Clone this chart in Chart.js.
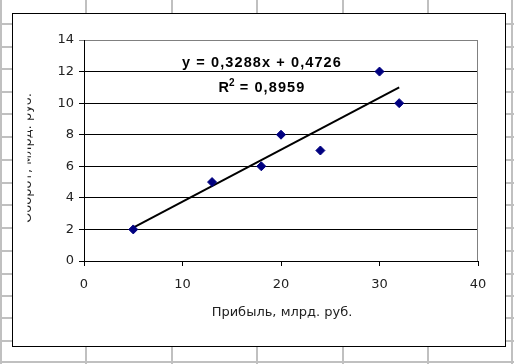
<!DOCTYPE html>
<html>
<head>
<meta charset="utf-8">
<script src="https://cdn.jsdelivr.net/npm/chart.js@4"></script>
<style>
  html, body { margin: 0; padding: 0; background: #fff; }
  #wrap { width: 514px; height: 364px; }
</style>
</head>
<body>
<div id="wrap"><canvas id="scatter"></canvas></div>
<script>
// data
const profit = [5, 13, 18, 20, 24, 30, 32];     // x, млрд. руб.
const turnover = [2, 5, 6, 8, 7, 12, 10];       // y, млрд. руб.
const xTicks = [0, 10, 20, 30, 40];
const yTicks = [0, 2, 4, 6, 8, 10, 12, 14];
const slope = 0.3288;
const intercept = 0.4726;
const trendX = [5, 32];

const eqText = "y = 0,3288x + 0,4726";
const r2Text = "0,8959";
const xTitle = "Прибыль, млрд. руб.";
const yTitle = "Оборот, млрд. руб.";

const points = profit.map((x, i) => ({ x: x, y: turnover[i] }));
const trend = trendX.map(x => ({ x: x, y: slope * x + intercept }));

const sheetPlugin = {
  id: "sheet",
  beforeDraw(chart) {
    const ctx = chart.ctx;
    const W = chart.width, H = chart.height;
    ctx.save();
    ctx.fillStyle = "#fff";
    ctx.fillRect(0, 0, W, H);
    // excel cell grid behind the chart
    ctx.strokeStyle = "#c0c0c0";
    ctx.lineWidth = 2;
    ctx.beginPath();
    [1, 86, 172, 257, 343, 428, 512].forEach(x => { ctx.moveTo(x, 0); ctx.lineTo(x, H); });
    [24, 47, 69, 92, 114, 137, 160, 183, 205, 228, 251, 274, 296, 318, 341, 362].forEach(y => { ctx.moveTo(0, y); ctx.lineTo(W, y); });
    ctx.stroke();
    // chart frame
    ctx.fillStyle = "#fff";
    ctx.fillRect(12, 13, 493, 333);
    ctx.strokeStyle = "#000";
    ctx.lineWidth = 1;
    ctx.strokeRect(12.5, 13.5, 493, 333);
    ctx.restore();
  },
  beforeDatasetsDraw(chart) {
    const ctx = chart.ctx;
    const a = chart.chartArea;
    ctx.save();
    ctx.lineWidth = 1;
    ctx.strokeStyle = "#808080";
    ctx.beginPath();
    ctx.moveTo(a.left, a.top + 0.5);
    ctx.lineTo(a.right - 0.5, a.top + 0.5);
    ctx.lineTo(a.right - 0.5, a.bottom);
    ctx.stroke();
    ctx.strokeStyle = "#000";
    ctx.beginPath();
    ctx.moveTo(a.left + 0.5, a.top);
    ctx.lineTo(a.left + 0.5, a.bottom + 0.5);
    ctx.lineTo(a.right, a.bottom + 0.5);
    ctx.stroke();
    ctx.restore();
  },
  afterDraw(chart) {
    const ctx = chart.ctx;
    const big = "bold 14.5px 'Liberation Sans', Arial, sans-serif";
    const small = "bold 10px 'Liberation Sans', Arial, sans-serif";
    ctx.save();
    ctx.fillStyle = "#000";
    ctx.textAlign = "center";
    ctx.textBaseline = "middle";
    ctx.font = big;
    ctx.letterSpacing = "1.1px";
    ctx.fillText(eqText, 262, 63);
    // R² line
    ctx.textAlign = "left";
    ctx.letterSpacing = "0px";
    const a1 = "R", a3 = " = " + r2Text;
    const w1 = ctx.measureText(a1).width;
    ctx.font = small;
    const w2 = ctx.measureText("2").width;
    ctx.font = big;
    ctx.letterSpacing = "1.1px";
    const w3 = ctx.measureText(a3).width;
    let x0 = 262 - (w1 + w2 + w3) / 2;
    ctx.letterSpacing = "0px";
    ctx.fillText(a1, x0, 88);
    ctx.font = small;
    ctx.fillText("2", x0 + w1, 83);
    ctx.font = big;
    ctx.letterSpacing = "1.1px";
    ctx.fillText(a3, x0 + w1 + w2, 88);
    ctx.letterSpacing = "0px";

    // axis titles
    ctx.textAlign = "center";
    ctx.fillStyle = "#222";
    ctx.font = "13px 'DejaVu Sans', sans-serif";
    ctx.fillText(xTitle, 282, 313);
    // y title is clipped by the frame in the original
    ctx.beginPath();
    ctx.rect(27.5, 13, 60, 333);
    ctx.clip();
    ctx.translate(28, 158);
    ctx.rotate(-Math.PI / 2);
    ctx.fillText(yTitle, 0, 0);
    ctx.restore();
  }
};

new Chart(document.getElementById("scatter"), {
  type: "scatter",
  data: {
    datasets: [
      {
        label: "trend",
        type: "line",
        data: trend,
        borderColor: "#000",
        borderWidth: 2,
        pointRadius: 0,
        fill: false,
        order: 2
      },
      {
        label: "data",
        data: points,
        pointStyle: "rectRot",
        pointRadius: 4.5,
        backgroundColor: "#000080",
        borderColor: "#000080",
        borderWidth: 1,
        order: 1
      }
    ]
  },
  options: {
    responsive: true,
    maintainAspectRatio: false,
    animation: false,
    layout: { padding: { left: 0, right: 36, top: 40, bottom: 0 } },
    plugins: {
      legend: { display: false },
      tooltip: { enabled: false }
    },
    scales: {
      x: {
        type: "linear",
        min: 0,
        max: 40,
        afterBuildTicks: s => { s.ticks = xTicks.map(v => ({ value: v })); },
        afterFit: s => { s.height = 103; },
        grid: { drawOnChartArea: false, tickLength: 5, color: "#000" },
        border: { display: false },
        ticks: { padding: 11, color: "#222", font: { family: "'DejaVu Sans', sans-serif", size: 13 }, maxRotation: 0 }
      },
      y: {
        min: 0,
        max: 14,
        afterBuildTicks: s => { s.ticks = yTicks.map(v => ({ value: v })); },
        afterFit: s => { s.width = 84; },
        grid: {
          tickLength: 5,
          color: c => (c.tick && c.tick.value === 14 ? "#808080" : "#000")
        },
        border: { display: false },
        ticks: { padding: 5, color: "#222", font: { family: "'DejaVu Sans', sans-serif", size: 13 } }
      }
    }
  },
  plugins: [sheetPlugin]
});
</script>
</body>
</html>
